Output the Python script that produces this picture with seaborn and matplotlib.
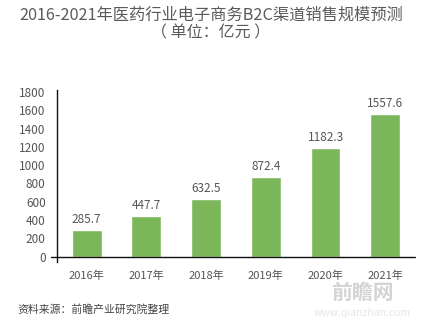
import matplotlib
matplotlib.use("Agg")
import matplotlib.pyplot as plt
import seaborn as sns
import pandas as pd

years = ["2016年", "2017年", "2018年", "2019年", "2020年", "2021年"]
values = [285.7, 447.7, 632.5, 872.4, 1182.3, 1557.6]
yticks = [0, 200, 400, 600, 800, 1000, 1200, 1400, 1600, 1800]
title1 = "2016-2021年医药行业电子商务B2C渠道销售规模预测"
title2 = "（ 单位：亿元 ）"
source = "资料来源：前瞻产业研究院整理"

sns.set_theme(style="white")
plt.rcParams['font.family'] = ['Noto Sans CJK SC', 'DejaVu Sans']

df = pd.DataFrame({"year": years, "value": values})

fig = plt.figure(figsize=(4.37, 3.24), dpi=100)
ax = fig.add_axes([0.130, 0.191, 0.820, 0.531])
sns.barplot(data=df, x="year", y="value", color="#7cb65a", saturation=1,
            width=0.5, ax=ax)

gray = "#555555"
for i, v in enumerate(values):
    ax.text(i, v + 45, f"{v:.1f}", ha="center", va="bottom", fontsize=8.5,
            color=gray)

ax.set_ylim(-60, 1820)
ax.set_xlim(-0.5, 5.5)
ax.set_yticks(yticks)
ax.set_yticklabels([str(t) for t in yticks], fontsize=8.5, color=gray)
ax.tick_params(axis="x", labelsize=8, colors=gray, length=0, pad=6)
ax.tick_params(axis="y", length=0, pad=8)
ax.set_xlabel("")
ax.set_ylabel("")
for s in ["top", "right", "bottom"]:
    ax.spines[s].set_visible(False)
ax.spines["left"].set_color("#111111")
ax.spines["left"].set_linewidth(1.0)
ax.axhline(0, xmin=-0.015, xmax=1.0, color="#111111", linewidth=1.0,
           clip_on=False, zorder=5)

fig.text(0.483, 0.953, title1, ha="center", va="center", fontsize=11.7,
         color="#5a5a5a")
fig.text(0.483, 0.898, title2, ha="center", va="center", fontsize=11.5,
         color="#5a5a5a")
fig.text(0.041, 0.045, source, ha="left", va="center", fontsize=7.8,
         color="#444444")
fig.text(0.83, 0.098, "前瞻网", ha="center", va="center", fontsize=15,
         color="#d4d4d4", fontweight="bold")
fig.text(0.83, 0.035, "www.qianzhan.com", ha="center", va="center",
         fontsize=7.5, color="#e6e6e6")

fig.savefig("out.png", dpi=100)
